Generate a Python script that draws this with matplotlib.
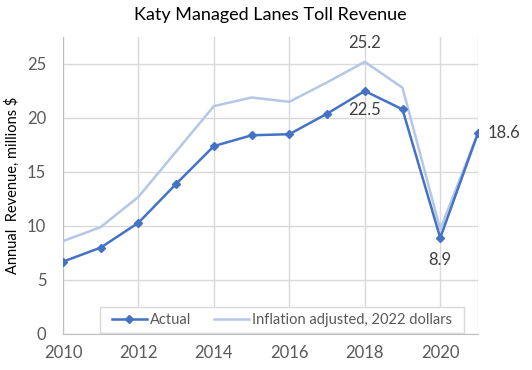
import matplotlib
matplotlib.use("Agg")
import matplotlib.pyplot as plt
from matplotlib.patches import Rectangle

years = [2010, 2011, 2012, 2013, 2014, 2015, 2016, 2017, 2018, 2019, 2020, 2021]
actual = [6.7, 8.0, 10.3, 13.9, 17.4, 18.4, 18.5, 20.4, 22.5, 20.8, 8.9, 18.6]
inflation = [8.6, 9.9, 12.7, 16.9, 21.1, 21.9, 21.5, 23.3, 25.2, 22.8, 9.7, 18.6]
xticks = [2010, 2012, 2014, 2016, 2018, 2020]
yticks = [0, 5, 10, 15, 20, 25]

plt.rcParams['font.family'] = ['Lato', 'DejaVu Sans']
txt = '#404040'
grid = '#D9D9D9'

fig = plt.figure(figsize=(5.32, 3.70), dpi=100)
ax = fig.add_axes([0.1184, 0.0973, 0.78, 0.8027])

l2, = ax.plot(years, inflation, color='#B4C7E7', lw=1.8, label='Inflation adjusted, 2022 dollars', zorder=3)
l1, = ax.plot(years, actual, color='#4472C4', lw=1.8, marker='D', ms=4, label='Actual', zorder=4)

ax.set_xlim(2010, 2021)
ax.set_ylim(0, 27.5)
ax.set_xticks(xticks)
ax.set_yticks(yticks)
ax.set_xticks([2021], minor=True)
ax.grid(True, which='major', color=grid, lw=1)
ax.grid(True, which='minor', axis='x', color=grid, lw=1)
ax.tick_params(axis='both', which='both', length=0, labelsize=12, labelcolor='#595959')
ax.tick_params(axis='x', pad=8)
ax.tick_params(axis='y', pad=12)
for s in ['top', 'right']:
    ax.spines[s].set_visible(False)
for s in ['left', 'bottom']:
    ax.spines[s].set_color('#BFBFBF')

ax.set_ylabel('Annual  Revenue, millions $', fontsize=10.5, color='#000000', labelpad=5)
ax.set_title('Katy Managed Lanes Toll Revenue', fontsize=13, color='#000000', pad=12)

ax.annotate(f'{inflation[8]:.1f}', (years[8], inflation[8]), xytext=(0, 8), textcoords='offset points',
            ha='center', va='bottom', fontsize=12, color=txt)
ax.annotate(f'{actual[8]:.1f}', (years[8], actual[8]), xytext=(0, -8), textcoords='offset points',
            ha='center', va='top', fontsize=12, color=txt)
ax.annotate(f'{actual[10]:.1f}', (years[10], actual[10]), xytext=(0, -10), textcoords='offset points',
            ha='center', va='top', fontsize=12, color=txt)
ax.annotate(f'{actual[11]:.1f}', (years[11], actual[11]), xytext=(7, 0), textcoords='offset points',
            ha='left', va='center', fontsize=12, color=txt, annotation_clip=False)

# legend frame (axes coords)
x0 = (100 - 63) / 415
x1 = (464 - 63) / 415
y0 = (334 - 333) / 297
y1 = (334 - 307) / 297
ax.add_patch(Rectangle((x0, y0), x1 - x0, y1 - y0, transform=ax.transAxes,
                       facecolor='white', edgecolor=grid, lw=1, zorder=5))
leg = ax.legend(handles=[l1, l2], loc='center', bbox_to_anchor=((x0 + x1) / 2, (y0 + y1) / 2),
                ncol=2, frameon=False, fontsize=10.5,
                labelcolor='#595959', handlelength=2.4, handletextpad=0.2, borderpad=0.2,
                columnspacing=1.6)
leg.set_zorder(6)

fig.savefig('out.png', dpi=100)
